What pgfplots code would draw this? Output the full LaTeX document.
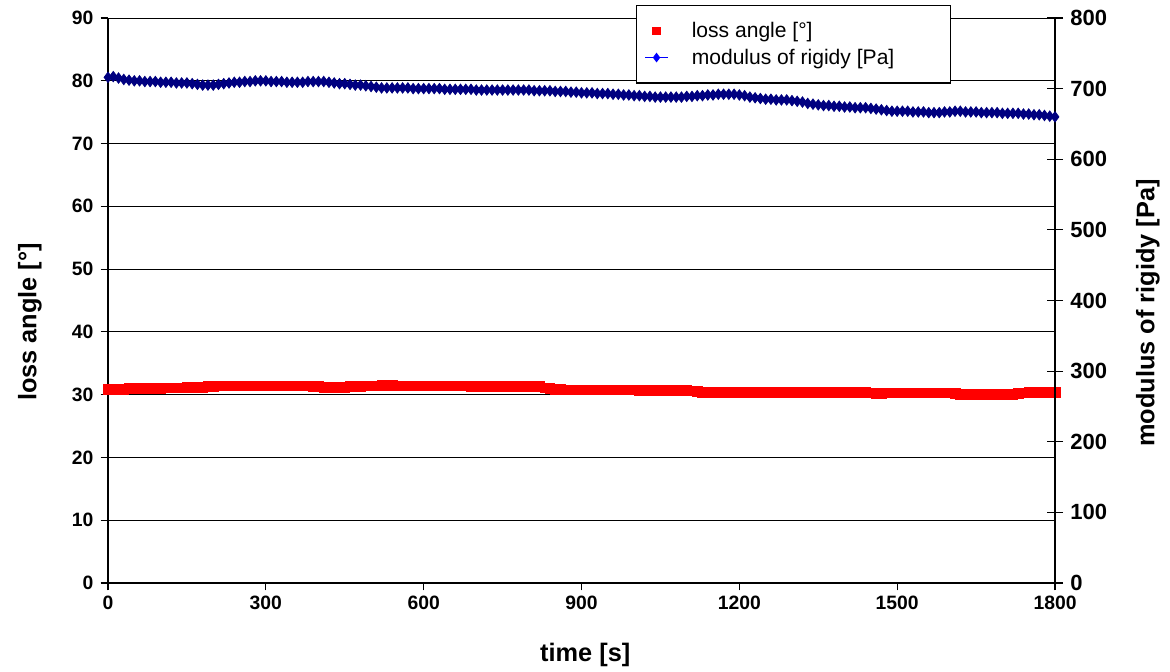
\documentclass[border=0pt]{standalone}
\usepackage{fontspec}
\setmainfont{Liberation Sans}
\usepackage{pgfplots}
\usepackage{pgfplotstable}
\pgfplotsset{compat=1.18}
\usetikzlibrary{calc}

\definecolor{navyblue}{RGB}{0,0,128}

% time [s], loss angle [deg]
\pgfplotstableread{
t a
0 30.9
10 30.9
20 30.9
30 30.9
40 31.0
50 31.0
60 31.0
70 31.0
80 31.0
90 31.0
100 31.0
110 31.1
120 31.1
130 31.1
140 31.1
150 31.2
160 31.2
170 31.2
180 31.2
190 31.3
200 31.3
210 31.4
220 31.4
230 31.4
240 31.4
250 31.4
260 31.4
270 31.4
280 31.4
290 31.4
300 31.4
310 31.4
320 31.4
330 31.4
340 31.4
350 31.4
360 31.4
370 31.4
380 31.4
390 31.3
400 31.3
410 31.2
420 31.2
430 31.2
440 31.2
450 31.2
460 31.3
470 31.3
480 31.3
490 31.4
500 31.4
510 31.4
520 31.5
530 31.5
540 31.5
550 31.4
560 31.4
570 31.4
580 31.4
590 31.4
600 31.4
610 31.4
620 31.4
630 31.4
640 31.4
650 31.4
660 31.4
670 31.4
680 31.4
690 31.3
700 31.3
710 31.3
720 31.3
730 31.3
740 31.3
750 31.3
760 31.3
770 31.3
780 31.3
790 31.3
800 31.3
810 31.3
820 31.3
830 31.1
840 31.0
850 30.9
860 30.9
870 30.8
880 30.8
890 30.8
900 30.8
910 30.8
920 30.8
930 30.8
940 30.8
950 30.8
960 30.8
970 30.8
980 30.8
990 30.8
1000 30.8
1010 30.7
1020 30.7
1030 30.7
1040 30.7
1050 30.7
1060 30.7
1070 30.7
1080 30.7
1090 30.7
1100 30.7
1110 30.6
1120 30.5
1130 30.4
1140 30.4
1150 30.4
1160 30.4
1170 30.4
1180 30.4
1190 30.4
1200 30.4
1210 30.4
1220 30.4
1230 30.4
1240 30.4
1250 30.4
1260 30.4
1270 30.4
1280 30.4
1290 30.4
1300 30.4
1310 30.4
1320 30.4
1330 30.4
1340 30.4
1350 30.4
1360 30.4
1370 30.4
1380 30.4
1390 30.4
1400 30.4
1410 30.4
1420 30.4
1430 30.4
1440 30.4
1450 30.3
1460 30.2
1470 30.2
1480 30.3
1490 30.3
1500 30.3
1510 30.3
1520 30.3
1530 30.3
1540 30.3
1550 30.3
1560 30.3
1570 30.3
1580 30.3
1590 30.3
1600 30.3
1610 30.2
1620 30.1
1630 30.1
1640 30.1
1650 30.1
1660 30.1
1670 30.1
1680 30.1
1690 30.1
1700 30.1
1710 30.1
1720 30.1
1730 30.2
1740 30.3
1750 30.4
1760 30.4
1770 30.4
1780 30.4
1790 30.4
1800 30.4
}\lossdata

% time [s], modulus of rigidity [Pa]
\pgfplotstableread{
t g
0 716
10 717
20 715
30 713
40 712
50 711
60 711
70 710
80 710
90 710
100 709
110 709
120 709
130 708
140 708
150 708
160 707
170 706
180 705
190 705
200 705
210 706
220 707
230 708
240 709
250 709
260 710
270 710
280 711
290 711
300 711
310 710
320 710
330 710
340 709
350 709
360 709
370 709
380 710
390 710
400 710
410 710
420 709
430 708
440 707
450 707
460 706
470 705
480 705
490 704
500 703
510 702
520 701
530 701
540 701
550 701
560 701
570 701
580 700
590 700
600 700
610 700
620 700
630 700
640 699
650 699
660 699
670 699
680 699
690 699
700 698
710 698
720 698
730 698
740 698
750 698
760 698
770 698
780 698
790 698
800 698
810 697
820 697
830 697
840 697
850 696
860 696
870 696
880 695
890 695
900 694
910 694
920 694
930 693
940 693
950 693
960 692
970 692
980 691
990 691
1000 690
1010 690
1020 689
1030 689
1040 688
1050 688
1060 688
1070 688
1080 688
1090 688
1100 689
1110 689
1120 690
1130 690
1140 691
1150 691
1160 692
1170 692
1180 692
1190 692
1200 691
1210 690
1220 688
1230 687
1240 686
1250 685
1260 685
1270 684
1280 684
1290 684
1300 683
1310 682
1320 681
1330 679
1340 678
1350 677
1360 676
1370 676
1380 675
1390 675
1400 674
1410 674
1420 673
1430 673
1440 673
1450 672
1460 671
1470 670
1480 669
1490 668
1500 668
1510 668
1520 668
1530 667
1540 667
1550 667
1560 666
1570 666
1580 666
1590 667
1600 667
1610 668
1620 668
1630 667
1640 667
1650 667
1660 666
1670 666
1680 666
1690 666
1700 665
1710 665
1720 665
1730 665
1740 664
1750 664
1760 663
1770 663
1780 662
1790 661
1800 660
}\rigiddata

\pgfplotsset{
  twin/.style={
    scale only axis, width=710.25pt, height=423.75pt,
    xmin=0, xmax=1800,
    axis line style={-, black, line width=0.8pt},
    major tick style={black, line width=0.8pt},
    major tick length=5.5pt,
    ticklabel style={font=\bfseries\fontsize{14.5}{14.5}\selectfont},
    label style={font=\bfseries\fontsize{19}{19}\selectfont},
    /pgf/number format/assume math mode=true,
    /pgf/number format/1000 sep={},
  }
}

\begin{document}
\begin{tikzpicture}
\begin{axis}[twin,
    ymin=0, ymax=90,
    axis x line*=bottom, axis y line*=left,
    xtick={0,300,...,1800}, ytick={0,10,...,90},
    tick align=outside,
    yticklabel style={xshift=-2pt},
    xticklabel style={yshift=-1pt},
    ymajorgrids, grid style={black, line width=0.7pt},
    clip=false,
    xlabel={time [s]}, ylabel={loss angle [°]},
    xlabel style={at={(axis description cs:0.504,-0.127)}, anchor=center},
    ylabel style={at={(axis description cs:-0.0824,0.462)}, anchor=center},
]
\path ($(rel axis cs:0,0)+(-81pt,-66.75pt)$) rectangle ($(rel axis cs:1,1)+(86.25pt,13.5pt)$);
\addplot[red, only marks, mark=square*, mark size=3.6pt] table[x=t, y=a] {\lossdata};
\end{axis}
\begin{axis}[twin,
    ymin=0, ymax=800,
    hide x axis, axis y line*=right,
    ytick={0,100,...,800},
    tick align=center, major tick length=12pt,
    yticklabel style={font=\bfseries\fontsize{16.5}{16.5}\selectfont, xshift=2pt},
    ylabel={modulus of rigidy [Pa]},
    ylabel style={at={(axis description cs:1.098,0.478)}, anchor=center},
    legend cell align=left,
    legend style={at={(rel axis cs:0.5575,1.023)}, anchor=north west,
        draw=black, line width=1pt, fill=white,
        font=\fontsize{15.8}{18}\selectfont,
        inner xsep=6pt, inner ysep=10.5pt, row sep=3pt,
        /tikz/every odd column/.append style={column sep=15.5pt}},
]
\addlegendimage{only marks, red, mark=square*, mark size=2.6pt}
\addlegendentry{loss angle [°]}
\addlegendimage{blue, line width=0.8pt, mark=diamond*, mark size=3pt}
\addlegendentry{\makebox[186pt][l]{modulus of rigidy [Pa]}}
\addplot[navyblue, line width=0.6pt, mark=diamond*, mark size=3.9pt, forget plot] table[x=t, y=g] {\rigiddata};
\end{axis}
\end{tikzpicture}
\end{document}
